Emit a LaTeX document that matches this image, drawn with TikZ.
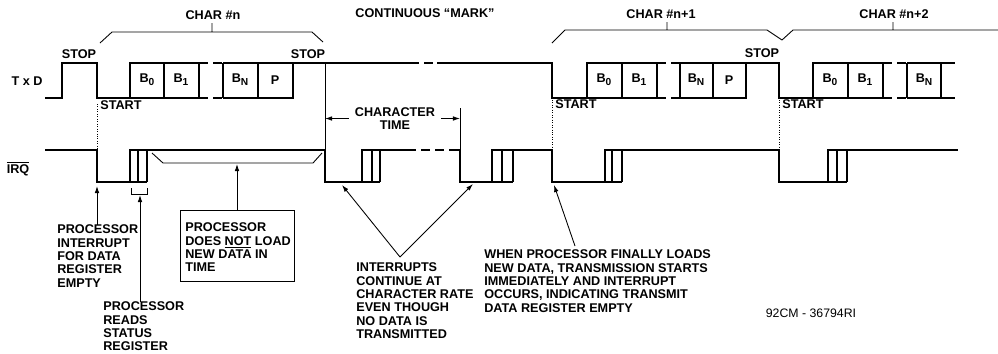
\documentclass[tikz,border=0pt]{standalone}
\usepackage{fontspec}
\setmainfont{Liberation Sans}
\usetikzlibrary{arrows.meta}
\newcommand{\bitname}[2]{#1\raisebox{-0.45ex}{\fontsize{5.8}{5.8}\selectfont #2}}

\begin{document}
\begin{tikzpicture}[x=0.02cm, y=-0.02cm,
    wave/.style={line width=1.1pt},
    gap/.style={line width=1.1pt, dash pattern=on 5pt off 3pt},
    thinline/.style={line width=0.5pt},
    refline/.style={line width=0.4pt, densely dotted},
    arr/.style={line width=0.5pt, -{Latex[length=4pt,width=2.6pt]}},
    lbl/.style={font=\bfseries\fontsize{7.2}{7.6}\selectfont, inner sep=0pt},
    note/.style={lbl, align=left, anchor=north west}]
    \useasboundingbox (0,0) rectangle (998,353);

    % Draw the signal names
    \node[lbl] (txd) at (27,81) {T x D};
    \node[lbl] (irq) at (18,169) {$\overline{\mbox{IRQ}}$};

    % Draw the TxD line
    \draw[wave] (45,98) -- (62,98) -- (62,63) -- (97,63) -- (97,98) -- (199,98);
    \draw[wave] (130,98) -- (130,63) -- (199,63);
    \foreach \x in {164,199} \draw[wave] (\x,63) -- (\x,98);
    \draw[gap] (199,63) -- (223,63) (199,98) -- (223,98);
    \draw[wave] (223,98) -- (293,98) -- (293,63);
    \draw[wave] (223,63) -- (410,63);
    \foreach \x in {223,258} \draw[wave] (\x,63) -- (\x,98);
    \draw[gap] (410,63) -- (437,63);
    \draw[wave] (437,63) -- (552,63) -- (552,98) -- (657,98);
    \draw[wave] (587,98) -- (587,63) -- (657,63);
    \foreach \x in {622,657} \draw[wave] (\x,63) -- (\x,98);
    \draw[gap] (657,63) -- (680,63) (657,98) -- (680,98);
    \draw[wave] (680,63) -- (779,63) -- (779,98) -- (883,98);
    \draw[wave] (680,98) -- (746,98) -- (746,63);
    \foreach \x in {680,713} \draw[wave] (\x,63) -- (\x,98);
    \draw[wave] (813,98) -- (813,63) -- (883,63);
    \foreach \x in {848,883} \draw[wave] (\x,63) -- (\x,98);
    \draw[gap] (883,63) -- (907,63) (883,98) -- (907,98);
    \draw[wave] (907,63) -- (955,63) (907,98) -- (955,98);
    \foreach \x in {907,941} \draw[wave] (\x,63) -- (\x,98);

    % Bit names
    \node[lbl] (b0n) at (147,80) {\bitname{B}{0}};
    \node[lbl] (b1n) at (181,80) {\bitname{B}{1}};
    \node[lbl] (bNn) at (240,80) {\bitname{B}{N}};
    \node[lbl] (pn) at (275,80) {P};
    \node[lbl] (b0m) at (604,80) {\bitname{B}{0}};
    \node[lbl] (b1m) at (639,80) {\bitname{B}{1}};
    \node[lbl] (bNm) at (696,80) {\bitname{B}{N}};
    \node[lbl] (pm) at (729,80) {P};
    \node[lbl] (b0k) at (830,80) {\bitname{B}{0}};
    \node[lbl] (b1k) at (865,80) {\bitname{B}{1}};
    \node[lbl] (bNk) at (924,80) {\bitname{B}{N}};

    % Start and stop labels
    \node[lbl] (stop1) at (79,54) {STOP};
    \node[lbl] (stop2) at (308,54) {STOP};
    \node[lbl] (stop3) at (762,53) {STOP};
    \node[lbl, anchor=west] (start1) at (100,105) {START};
    \node[lbl, anchor=west] (start2) at (555,104) {START};
    \node[lbl, anchor=west] (start3) at (782,104) {START};

    % Character brackets
    \node[lbl] (charn) at (213,15) {CHAR \#n};
    \node[lbl] (mark) at (425,13) {CONTINUOUS ``MARK''};
    \node[lbl] (charn1) at (661,14) {CHAR \#n+1};
    \node[lbl] (charn2) at (894,14) {CHAR \#n+2};
    \draw[thinline] (100,43) -- (112,32) -- (312,32) -- (323,42) (212,32) -- (212,23);
    \draw[thinline] (552,43) -- (565,30) -- (767,30) -- (782,40) (667,30) -- (667,22);
    \draw[thinline] (782,40) -- (793,30) -- (998,30) (893,30) -- (893,22);

    % Draw the IRQ line
    \draw[wave] (45,150) -- (97,150) -- (97,182) -- (147,182);
    \draw[wave] (130,182) -- (130,150) -- (325,150) -- (325,182) -- (380,182);
    \foreach \x in {138,147} \draw[wave] (\x,150) -- (\x,182);
    \draw[wave] (362,182) -- (362,150) -- (407,150);
    \foreach \x in {372,380} \draw[wave] (\x,150) -- (\x,182);
    \draw[gap] (407,150) -- (453,150);
    \draw[wave] (453,150) -- (460,150) -- (460,182) -- (513,182);
    \draw[wave] (492,182) -- (492,150) -- (552,150) -- (552,182) -- (622,182);
    \foreach \x in {502,513} \draw[wave] (\x,150) -- (\x,182);
    \draw[wave] (605,182) -- (605,150) -- (779,150) -- (779,182) -- (847,182);
    \foreach \x in {612,622} \draw[wave] (\x,150) -- (\x,182);
    \draw[wave] (828,182) -- (828,150) -- (958,150);
    \foreach \x in {837,847} \draw[wave] (\x,150) -- (\x,182);

    % Reference lines between TxD and IRQ
    \draw[refline] (97,104) -- (97,150);
    \draw[thinline] (325,63) -- (325,150);
    \draw[thinline] (460,108) -- (460,150);
    \draw[refline] (552,100) -- (552,150);
    \draw[refline] (779,100) -- (779,150);

    % Character time
    \node[lbl, align=center, inner xsep=0.12cm] (ctime) at (395,118.5) {CHARACTER\\TIME};
    \coordinate (ctL) at (325,118.5);
    \coordinate (ctR) at (460,118.5);
    \draw[arr] (ctime.west) -- (ctL);
    \draw[arr] (ctime.east) -- (ctR);

    % Small brackets under IRQ
    \draw[thinline] (131,188) -- (131,194) -- (147,194) -- (147,188);
    \draw[thinline] (152,153) -- (163,163) -- (313,163) -- (322,153);

    % Notes
    \node[note] (pint) at (57,224.5) {PROCESSOR\\INTERRUPT\\FOR DATA\\REGISTER\\EMPTY};
    \node[note] (pread) at (103,301.5) {PROCESSOR\\READS\\STATUS\\REGISTER};
    \node[draw, line width=0.6pt, anchor=north west, inner sep=0pt,
          minimum width=2.28cm, minimum height=1.42cm] (nobox) at (180,210) {};
    \node[note] (notext) at (185,222.5) {PROCESSOR\\DOES \underline{NOT} LOAD\\NEW DATA IN\\TIME};
    \node[note] (icont) at (356,262.5) {INTERRUPTS\\CONTINUE AT\\CHARACTER RATE\\EVEN THOUGH\\NO DATA IS\\TRANSMITTED};
    \node[note] (final) at (484,249.5) {WHEN PROCESSOR FINALLY LOADS\\NEW DATA, TRANSMISSION STARTS\\IMMEDIATELY AND INTERRUPT\\OCCURS, INDICATING TRANSMIT\\DATA REGISTER EMPTY};
    \node[inner sep=0pt, font=\fontsize{7}{7.6}\selectfont] (figno) at (811,313) {92CM - 36794RI};

    % Arrows from the notes
    \coordinate (irqfall) at (97,186);
    \coordinate (rdbr) at (140,195);
    \coordinate (brmid) at (237,164);
    \coordinate (vtx) at (400,257);
    \coordinate (low1) at (342,185);
    \coordinate (low2) at (473,184);
    \coordinate (low3) at (554,185);
    \coordinate (finaltail) at (575,246);
    \draw[arr] (pint.north -| irqfall) -- (irqfall);
    \draw[arr] (pread.north -| rdbr) -- (rdbr);
    \draw[arr] (nobox.north -| brmid) -- (brmid);
    \draw[arr] (vtx) -- (low1);
    \draw[arr] (vtx) -- (low2);
    \draw[arr] (finaltail) -- (low3);
\end{tikzpicture}
\end{document}
